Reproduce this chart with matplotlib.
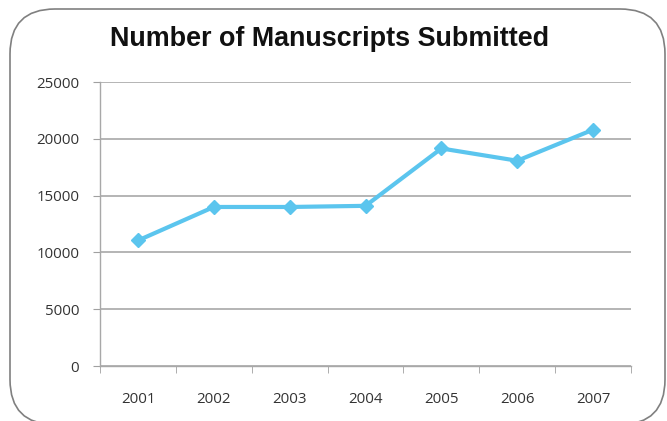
import matplotlib.pyplot as plt
from matplotlib.patches import FancyBboxPatch

years = ["2001", "2002", "2003", "2004", "2005", "2006", "2007"]
manuscripts = [11050, 14000, 14000, 14100, 19150, 18070, 20800]
y_ticks = [0, 5000, 10000, 15000, 20000, 25000]

plt.rcParams['font.family'] = ['Open Sans', 'DejaVu Sans']

fig = plt.figure(figsize=(6.67, 4.21), dpi=100)
ax = fig.add_axes([0.15, 0.1306, 0.7960, 0.6746])

x = list(range(len(years)))
ax.plot(x, manuscripts, color="#5BC5EE", lw=3, marker="D", ms=7.5,
        markeredgecolor="#5BC5EE", zorder=3)

ax.set_xlim(-0.5, len(years) - 0.5)
ax.set_ylim(0, 25000)
ax.set_yticks(y_ticks)
ax.set_yticklabels([str(v) for v in y_ticks], fontsize=10.8, color="#333333")
ax.set_xticks(x)
ax.set_xticklabels(years, fontsize=10.8, color="#333333")
ax.set_xticks([i - 0.5 for i in range(len(years) + 1)], minor=True)
ax.tick_params(axis="x", which="major", length=0, pad=19)
ax.tick_params(axis="x", which="minor", length=5, color="#A0A0A0", direction="out")
ax.tick_params(axis="y", length=5, color="#A0A0A0", pad=10)

ax.grid(axis="y", color="#A0A0A0", lw=1.1)
ax.set_axisbelow(True)
for s in ["top", "right"]:
    ax.spines[s].set_visible(False)
for s in ["left", "bottom"]:
    ax.spines[s].set_color("#A8A8A8")
    ax.spines[s].set_linewidth(1.0)

fig.text(0.494, 0.907, "Number of Manuscripts Submitted", ha="center", va="center",
         fontsize=19.4, fontweight="bold", color="#111111",
         family=["Liberation Sans", "DejaVu Sans"])

# rounded frame, bottom edge falls just outside the picture
box = FancyBboxPatch((0.10, -0.035), 6.55, 4.155,
                     boxstyle="round,pad=0,rounding_size=0.45",
                     transform=fig.dpi_scale_trans, fill=False,
                     edgecolor="#808080", lw=1.2, clip_on=False)
fig.patches.append(box)

fig.savefig("out.png", dpi=100)
